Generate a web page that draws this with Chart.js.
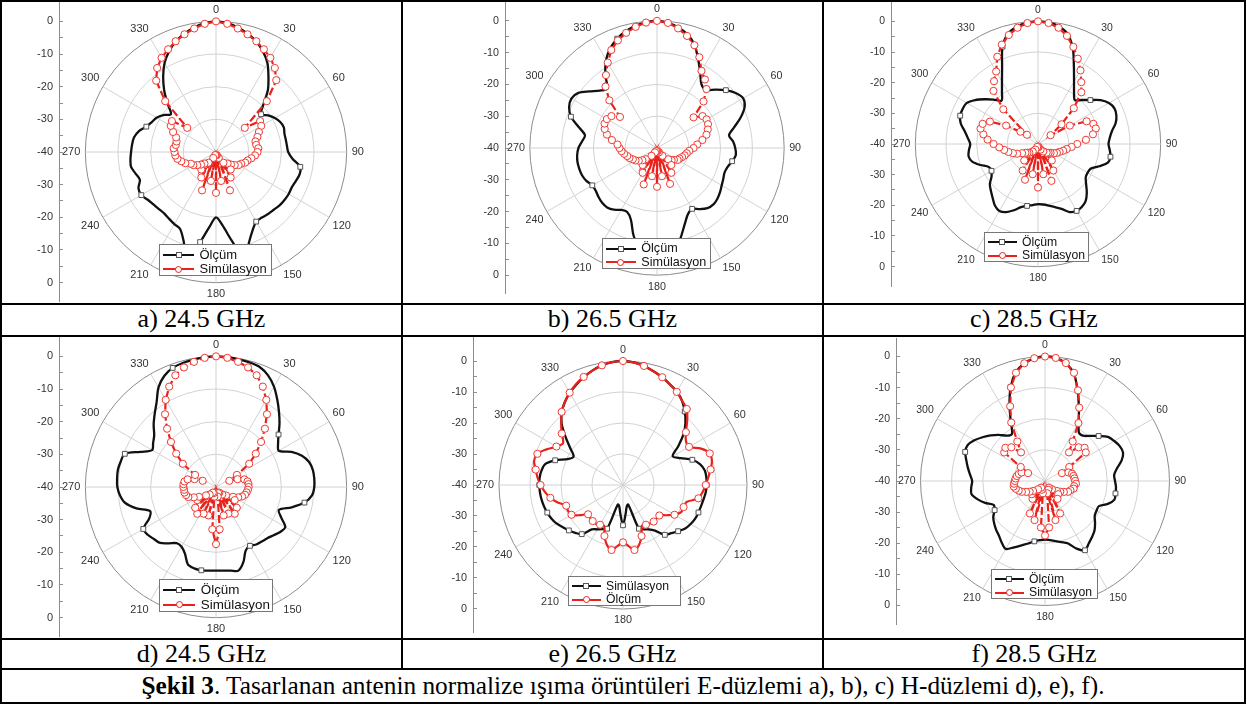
<!DOCTYPE html>
<html>
<head>
<meta charset="utf-8">
<script src="https://cdn.jsdelivr.net/npm/chart.js@4.4.1/dist/chart.umd.min.js"></script>
<style>
html, body { margin: 0; padding: 0; background: #fff; }
#page { position: relative; width: 1247px; height: 706px; overflow: hidden; background: #fff; font-family: "Liberation Sans", Arial, sans-serif; }
.ln { position: absolute; background: #000; }
.cap { position: absolute; font-family: "Liberation Serif", "Times New Roman", serif; font-size: 26px; color: #000; text-align: center; white-space: nowrap; }
.box { position: absolute; }
.leg { position: absolute; background: #fff; border: 1px solid #777; box-sizing: border-box; color: #111; }
.leg .row { position: absolute; left: 0; white-space: nowrap; }
.leg .smp { position: absolute; height: 2px; }
.leg .mk { position: absolute; background: #fff; box-sizing: border-box; }
</style>
</head>
<body>
<div id="page"></div>
<script>
// angle categories (deg, clockwise from top)
const angles = [0, 5, 10, 15, 20, 25, 30, 35, 40, 45, 50, 55,
  60, 65, 70, 75, 80, 85, 90, 95, 100, 105, 110, 115,
  120, 125, 130, 135, 140, 145, 150, 155, 160, 165, 170, 175,
  180, 185, 190, 195, 200, 205, 210, 215, 220, 225, 230, 235,
  240, 245, 250, 255, 260, 265, 270, 275, 280, 285, 290, 295,
  300, 305, 310, 315, 320, 325, 330, 335, 340, 345, 350, 355];

// left axis: values along the diameter and their labels
const leftTickValues = [-40, -35, -30, -25, -20, -15, -10, -5, 0, 5, 10, 15, 20, 25, 30, 35, 40];
const leftTickLabels = ['0', '', '-10', '', '-20', '', '-30', '', '-40', '', '-30', '', '-20', '', '-10', '', '0'];

// a) E-plane 24.5 GHz
const olcumA = [0, -0.4, -1.3, -2.5, -4, -6, -8.5, -12, -15.3, -19.5, -22, -20.5,
  -19.2, -18.3, -17.9, -18.3, -18.3, -18.2, -17.9, -16.5, -13.8, -13.5, -14, -14.4,
  -14.3, -14.4, -14.6, -15, -15.2, -15.5, -15.4, -13.5, -10.5, -6, -12.5, -17.5,
  -20, -17, -12, -6, -11, -14, -14.5, -15, -15.4, -15.3, -15, -14.5,
  -13.6, -13.8, -15.2, -14.5, -13.6, -13.7, -14, -14.2, -14.5, -15.5, -17.3, -18.3,
  -19, -20.3, -22, -19, -15.3, -11.8, -8.5, -6, -4, -2.5, -1.3, -0.4];
const simA = [0, -0.6, -1.6, -2.7, -3.9, -5.3, -6.7, -8.6, -11.3, -18, -28.5, -23.5,
  -24, -25.5, -26.5, -27.5, -27.5, -27, -27.3, -28, -29, -30, -30.5, -31.5,
  -32, -33, -34, -35, -33, -36, -31, -38, -27.5, -39, -31, -39,
  -27.5, -39, -31, -39, -27.5, -38, -31, -36, -33, -35, -34, -33,
  -32, -31.5, -30, -29, -28, -27.5, -27.3, -27, -27.5, -27.5, -27, -25.5,
  -24, -23.5, -28.5, -18, -11.5, -8.6, -6.7, -5.3, -3.9, -2.7, -1.6, -0.6];

// b) E-plane 26.5 GHz
const olcumB = [0, -0.5, -1.5, -3, -5.5, -9.3, -12.8, -15.6, -16.1, -14, -11.7, -9.8,
  -8.7, -9.6, -12, -14.9, -17, -16, -15.4, -15.1, -16, -17, -17.4, -17,
  -16.5, -15.8, -15.2, -14.9, -15.3, -16.5, -17.9, -17, -14.5, -11, -7, -4,
  -3, -4, -8, -11.5, -16, -17.8, -17.5, -16.3, -15.6, -15.6, -16, -16.5,
  -16.5, -15.5, -14.9, -14.7, -14.6, -14.8, -15.3, -16.3, -17, -14.5, -11.2, -9.5,
  -8.9, -9.8, -12.3, -14.5, -15.6, -11.6, -8, -5.3, -3.4, -2, -1, -0.3];
const simB = [0, -0.5, -1.8, -3.5, -5.6, -8.5, -12, -13.7, -15.8, -19.3, -25, -22.5,
  -22, -22.3, -23, -23.9, -25.5, -27.3, -28.5, -29.8, -30.5, -31, -31.6, -32.2,
  -32.5, -33.5, -34, -35, -33, -37, -31, -38.5, -28, -39, -31, -39,
  -27.8, -39, -31, -39, -27.8, -38.5, -31, -37, -33, -35, -34, -33,
  -32.2, -31.6, -30.8, -30.3, -29.5, -28.8, -28.2, -27.5, -25.6, -23.7, -22.5, -21.8,
  -21.8, -22.5, -24.8, -18.8, -14.8, -12, -9, -6, -4, -2.5, -1.3, -0.4];

// c) E-plane 28.5 GHz
const olcumC = [0, -0.3, -1, -2.8, -6.8, -12.3, -16.5, -19.5, -21.3, -19.7, -17.7, -15.1,
  -13.3, -12.5, -12.8, -13.8, -15.5, -16.5, -17, -16.5, -16, -16.4, -18.8, -21,
  -21.3, -21, -19.5, -17.5, -15.8, -15, -14.8, -15.5, -17.5, -18.7, -19.6, -20.2,
  -20.4, -20, -19.5, -18.7, -17, -15.5, -14.8, -15.5, -17, -18.3, -19.5, -21.5,
  -22.5, -22.3, -20, -17.8, -17, -17.4, -17.9, -17, -15.7, -13.9, -13, -12.9,
  -13.2, -15, -17.3, -19.5, -21.5, -19.5, -16.5, -12.3, -6.2, -2.6, -1.1, -0.3];
const simC = [0, -0.4, -1.5, -3.5, -6.3, -9.3, -12.3, -15.4, -18, -23.5, -30, -35,
  -28, -22.5, -20.8, -20.5, -21.8, -24.3, -27.2, -29, -30.5, -31.5, -32.5, -33.2,
  -34, -35, -35.5, -36, -33, -37, -30, -38, -27.2, -39, -30, -39,
  -25.8, -39, -30, -39, -27.6, -38, -30, -37, -33, -36, -35.5, -35,
  -34, -32.5, -31.3, -30, -28.8, -27.3, -25.5, -23.5, -21.9, -20.6, -20.8, -22.7,
  -28, -33, -35.3, -24, -17.4, -15, -12.7, -8.6, -5.5, -3.2, -1.5, -0.4];

// d) H-plane 24.5 GHz
const olcumD = [0, -0.1, -0.3, -0.5, -0.9, -2.3, -4.5, -7.3, -10, -12.5, -15, -16.8,
  -17.8, -14.5, -12, -10.5, -9.9, -9.8, -9.9, -10.5, -12.5, -16, -19.5, -18,
  -15.5, -16, -17, -17.8, -18.2, -18.5, -19.2, -18.5, -15.5, -13.5, -14, -14.3,
  -14.4, -14.3, -14.1, -14.2, -14.8, -17.5, -18.9, -19, -17.5, -15.8, -15.2, -14.5,
  -14.3, -17.5, -18.5, -14.8, -11.8, -10.5, -9.8, -9.6, -9.5, -9.8, -10.3, -14.5,
  -17.4, -16.5, -15.3, -13, -10.8, -8.3, -4.8, -2.5, -1.2, -0.7, -0.4, -0.1];
const simD = [0, -0.3, -1.1, -2.1, -3.6, -6.1, -9.2, -12.8, -16.7, -20.5, -24.1, -27.6,
  -32.6, -35.5, -33, -31, -30.2, -30, -30, -30.2, -30.5, -30.8, -31.5, -32.5,
  -34, -33, -36, -31, -37, -30, -38, -31, -38, -31, -37, -27,
  -22.5, -27, -37, -31, -38, -31, -38, -30, -37, -31, -36, -33,
  -34, -32.5, -31, -30.5, -30.2, -30.2, -30, -30, -30.2, -31, -33, -35.5,
  -32.6, -27.6, -24.1, -20.5, -16.7, -12.8, -9.2, -6.1, -3.6, -2.1, -1.1, -0.3];

// e) H-plane 26.5 GHz (black = Simülasyon, red = Ölçüm)
const simE = [0, -0.3, -1, -2, -3, -4.2, -5.2, -6.8, -9, -11.5, -14.5, -18.3,
  -21.5, -19.5, -16.2, -14.2, -13.2, -13, -13, -13.2, -13.6, -13.9, -14.1, -14.3,
  -14.8, -15.5, -16.8, -18, -19, -22, -23.5, -24.2, -25, -33.5, -33, -30.5,
  -27, -30.5, -33, -33.5, -25, -24.3, -23.5, -22.5, -19.3, -18.2, -17.2, -16.3,
  -15.2, -14.5, -14, -13.6, -13.3, -13.1, -13, -13, -13.3, -14, -16.7, -20.3,
  -21.6, -19.2, -15.8, -12, -9.3, -7.3, -5.7, -4.3, -3, -1.8, -0.8, -0.2];
const olcumE = [0, -0.3, -1, -2, -3, -4.2, -5.3, -6.8, -8, -10.7, -13.5, -15.2,
  -15.4, -12.2, -10.2, -10.3, -11.3, -12.4, -13.3, -14.2, -15.3, -18.8, -19.2, -19.3,
  -20.8, -23, -24.7, -24.7, -24.6, -24.8, -25.2, -25.5, -22.5, -20, -18.7, -20.3,
  -21.5, -20.3, -18.7, -20, -22.5, -25.5, -25.2, -24.7, -24.8, -25, -25.3, -23,
  -20.8, -20.4, -20.5, -18.2, -16.2, -14.7, -13.4, -12.3, -11.4, -10.3, -10.6, -12.8,
  -15.2, -16.4, -14.2, -11.8, -9.2, -7.3, -5.6, -4.1, -2.9, -1.8, -0.8, -0.2];

// f) H-plane 28.5 GHz
const olcumF = [0, -0.3, -1.6, -4.2, -9.3, -14.2, -18.3, -21, -21, -19.5, -17.5, -15.3,
  -14.3, -13.5, -13.3, -14.5, -16.5, -17.7, -17.5, -17.1, -17, -16.9, -18.5, -20.9,
  -20.9, -20.5, -19, -17.5, -16.5, -15.5, -14.3, -16, -18.7, -19.7, -20.4, -20.9,
  -21.2, -20.9, -20.3, -19.2, -18, -16.5, -14.8, -15.8, -17, -17.8, -18.7, -19.7,
  -21.3, -21.8, -19.5, -17.5, -16, -16.2, -16.6, -15.8, -14.8, -13.8, -12.7, -12.6,
  -13.8, -15.5, -17.2, -19, -21, -21.5, -18, -13, -7.8, -3.8, -1.6, -0.4];
const simF = [0, -0.3, -1.5, -4, -9, -14, -18.5, -24.5, -28, -24.7, -23.4, -24,
  -31, -34, -32, -31, -30.7, -30.5, -30.3, -30, -30.5, -30.5, -31.3, -31.8,
  -33, -34, -35, -34, -36.5, -33, -37.5, -28.5, -37, -27, -36, -25,
  -22.5, -25, -36, -27, -37, -28.5, -37.5, -33, -36.5, -34, -35, -34,
  -33, -31.8, -31, -30.3, -29.8, -30, -30.3, -30.5, -30.8, -31.3, -32, -34,
  -31, -24, -23.4, -24.7, -28, -24.5, -18.3, -13.5, -8, -4, -1.6, -0.4];

// where the square / circle symbols sit (angles)
const squaresMeas = [50, 100, 150, 190, 240, 290, 340];
const squaresE = [10, 40, 70, 90, 110, 130, 140, 160, 180, 200, 220, 230, 250, 270, 290, 320, 350];
const circlesE = [0, 10, 20, 30, 40, 50, 60, 70, 80, 90, 100, 110, 120, 130, 140, 150, 160, 170,
  180, 190, 200, 210, 220, 230, 240, 250, 260, 270, 280, 290, 300, 310, 320, 330, 340, 350];

const legendNormal = ['Ölçüm', 'Simülasyon'];
const legendE = ['Simülasyon', 'Ölçüm'];
const captions = ['a) 24.5 GHz', 'b) 26.5 GHz', 'c) 28.5 GHz', 'd) 24.5 GHz', 'e) 26.5 GHz', 'f) 28.5 GHz'];
const figCaptionBold = 'Şekil 3';
const figCaptionText = '. Tasarlanan antenin normalize ışıma örüntüleri E-düzlemi a), b), c) H-düzlemi d), e), f).';

// layout of each plot on the page (axis x, centre, radius, legend box)
const panels = [
  { black: olcumA, red: simA, names: legendNormal, sq: squaresMeas, ci: null, dash: [8, 3], redT: 0, ax: 59, cx: 216, cy: 152, R: 132, leg: [159, 244, 113, 32] },
  { black: olcumB, red: simB, names: legendNormal, sq: squaresMeas, ci: null, dash: [8, 3], redT: 0, ax: 504, cx: 657, cy: 148, R: 128, leg: [602, 238, 109, 31] },
  { black: olcumC, red: simC, names: legendNormal, sq: squaresMeas, ci: null, dash: [8, 3], redT: 0, ax: 890, cx: 1038, cy: 144, R: 125, leg: [984, 232, 105, 30] },
  { black: olcumD, red: simD, names: legendNormal, sq: squaresMeas, ci: null, dash: [8, 3], redT: 0, ax: 59, cx: 216, cy: 487, R: 132, leg: [159, 579, 114, 33] },
  { black: simE, red: olcumE, names: legendE, sq: squaresE, ci: circlesE, dash: [], redT: 0.3, ax: 473, cx: 623, cy: 485, R: 130, leg: [568, 576, 113, 30] },
  { black: olcumF, red: simF, names: legendNormal, sq: squaresMeas, ci: null, dash: [8, 3], redT: 0, ax: 895, cx: 1045, cy: 481, R: 126, leg: [991, 569, 107, 30] }
];

const page = document.getElementById('page');
Chart.defaults.font.family = "'Liberation Sans', Arial, sans-serif";

function addDiv(cls, l, t, w, h) {
  const d = document.createElement('div');
  d.className = cls;
  d.style.left = l + 'px';
  d.style.top = t + 'px';
  if (w !== null) d.style.width = w + 'px';
  if (h !== null) d.style.height = h + 'px';
  page.appendChild(d);
  return d;
}

// table frame
addDiv('ln', 0, 0, 1246, 2);
addDiv('ln', 0, 0, 2, 704);
addDiv('ln', 1244, 0, 2, 704);
addDiv('ln', 0, 702, 1246, 2);
addDiv('ln', 0, 303, 1246, 2);
addDiv('ln', 0, 335, 1246, 2);
addDiv('ln', 0, 638, 1246, 2);
addDiv('ln', 0, 668, 1246, 2);
addDiv('ln', 401, 0, 2, 669);
addDiv('ln', 822, 0, 2, 669);

const cellX = [[2, 401], [403, 822], [824, 1244]];
captions.forEach((txt, i) => {
  const c = cellX[i % 3];
  const top = i < 3 ? 304 : 639;
  const d = addDiv('cap', c[0], top, c[1] - c[0], 30);
  d.style.lineHeight = '30px';
  d.textContent = txt;
});
const fc = addDiv('cap', 2, 669, 1242, 33);
fc.style.lineHeight = '33px';
fc.style.fontSize = '25.3px';
fc.innerHTML = '<b>' + figCaptionBold + '</b>' + figCaptionText;

function makeLegend(p) {
  const [l, t, w, h] = p.leg;
  const s = h / 32;
  const lg = addDiv('leg', l, t, w, h);
  lg.style.fontSize = (13 * s) + 'px';
  const colors = ['#111', '#e8211b'];
  [0, 1].forEach(i => {
    const yc = (i === 0 ? 10 : 24) * s;
    const smp = document.createElement('div');
    smp.className = 'smp';
    smp.style.left = (3 * s) + 'px';
    smp.style.width = (31 * s) + 'px';
    smp.style.top = (yc - 1) + 'px';
    smp.style.background = colors[i];
    lg.appendChild(smp);
    const mk = document.createElement('div');
    mk.className = 'mk';
    const m = i === 0 ? 6 : 7;
    mk.style.width = m + 'px';
    mk.style.height = m + 'px';
    mk.style.left = (18.5 * s - m / 2) + 'px';
    mk.style.top = (yc - m / 2) + 'px';
    mk.style.border = '1px solid ' + (i === 0 ? '#555' : '#e8211b');
    if (i === 1) mk.style.borderRadius = '50%';
    lg.appendChild(mk);
    const row = document.createElement('div');
    row.className = 'row';
    row.style.left = (39.5 * s) + 'px';
    row.style.top = (yc - 8 * s) + 'px';
    row.style.lineHeight = (16 * s) + 'px';
    row.textContent = p.names[i];
    lg.appendChild(row);
  });
}

function makePanel(p) {
  const s = p.R / 132;
  const fs = Math.round(11 * s * 10) / 10;
  const H = Math.round(2 * (p.R + 5 + fs * 1.2));
  const W = 40 + 2 * (p.cx - p.ax) - 6;
  const box = addDiv('box', p.ax - 40, p.cy - H / 2, W, H);
  const cv = document.createElement('canvas');
  box.appendChild(cv);

  const chart = new Chart(cv, {
    type: 'radar',
    data: {
      labels: angles.map(String),
      datasets: [
        {
          label: p.names[1],
          data: p.red,
          borderColor: '#e8211b',
          borderWidth: 2.2,
          borderDash: p.dash,
          tension: p.redT,
          fill: false,
          pointStyle: 'circle',
          pointRadius: (c) => (p.ci === null || p.ci.includes(angles[c.dataIndex])) ? 3.6 : 0,
          pointBackgroundColor: '#fff',
          pointBorderColor: '#ef3a33',
          pointBorderWidth: 1,
          order: 0
        },
        {
          label: p.names[0],
          data: p.black,
          borderColor: '#111',
          borderWidth: 2.3,
          tension: 0.3,
          fill: false,
          pointStyle: 'rect',
          pointRadius: (c) => p.sq.includes(angles[c.dataIndex]) ? 3.4 : 0,
          pointBackgroundColor: '#fff',
          pointBorderColor: '#555',
          pointBorderWidth: 1,
          order: 1
        }
      ]
    },
    options: {
      responsive: true,
      maintainAspectRatio: false,
      devicePixelRatio: 1,
      animation: false,
      events: [],
      layout: { padding: 0 },
      plugins: { legend: { display: false }, tooltip: { enabled: false } },
      scales: {
        r: {
          min: -40,
          max: 0,
          startAngle: 0,
          ticks: { display: false, stepSize: 10 },
          grid: {
            circular: true,
            color: (c) => c.tick && c.tick.value === 0 ? '#8c8c8c' : '#d2d2d2',
            lineWidth: 1
          },
          angleLines: {
            color: '#d2d2d2',
            lineWidth: (c) => c.index % 6 === 0 ? 1 : 0
          },
          pointLabels: {
            color: '#333',
            font: { size: fs },
            padding: (c) => c.index % 18 === 0 ? 5 : 4,
            callback: (label, i) => i % 6 === 0 ? label : ''
          }
        },
        y: {
          type: 'linear',
          position: 'left',
          min: -40,
          max: 40,
          afterBuildTicks: (sc) => { sc.ticks = leftTickValues.map(v => ({ value: v })); },
          // fixed width, and no extra room above/below for the end labels
          afterFit: (sc) => { sc.width = 40; sc.paddingTop = 0; sc.paddingBottom = 0; },
          ticks: {
            autoSkip: false,
            padding: 10,
            color: '#333',
            font: { size: fs },
            callback: (v) => leftTickLabels[leftTickValues.indexOf(v)]
          },
          grid: { drawOnChartArea: false, tickLength: -4, color: '#8c8c8c' },
          border: { color: '#8c8c8c' }
        }
      }
    }
  });

  // put the circle centre where it sits in the figure
  const r = chart.scales.r;
  box.style.left = (p.cx - r.xCenter) + 'px';
  box.style.top = (p.cy - r.yCenter) + 'px';

  // stretch the left axis so that 0 / -40 / 0 meet the circle edges and centre
  const ca = chart.chartArea;
  const top = r.yCenter - r.drawingArea;
  const bot = r.yCenter + r.drawingArea;
  const k = 80 / (bot - top);
  chart.options.scales.y.max = 40 + (top - ca.top) * k;
  chart.options.scales.y.min = -40 - (ca.bottom - bot) * k;
  chart.update('none');

  makeLegend(p);
}

panels.forEach(makePanel);
</script>
</body>
</html>
